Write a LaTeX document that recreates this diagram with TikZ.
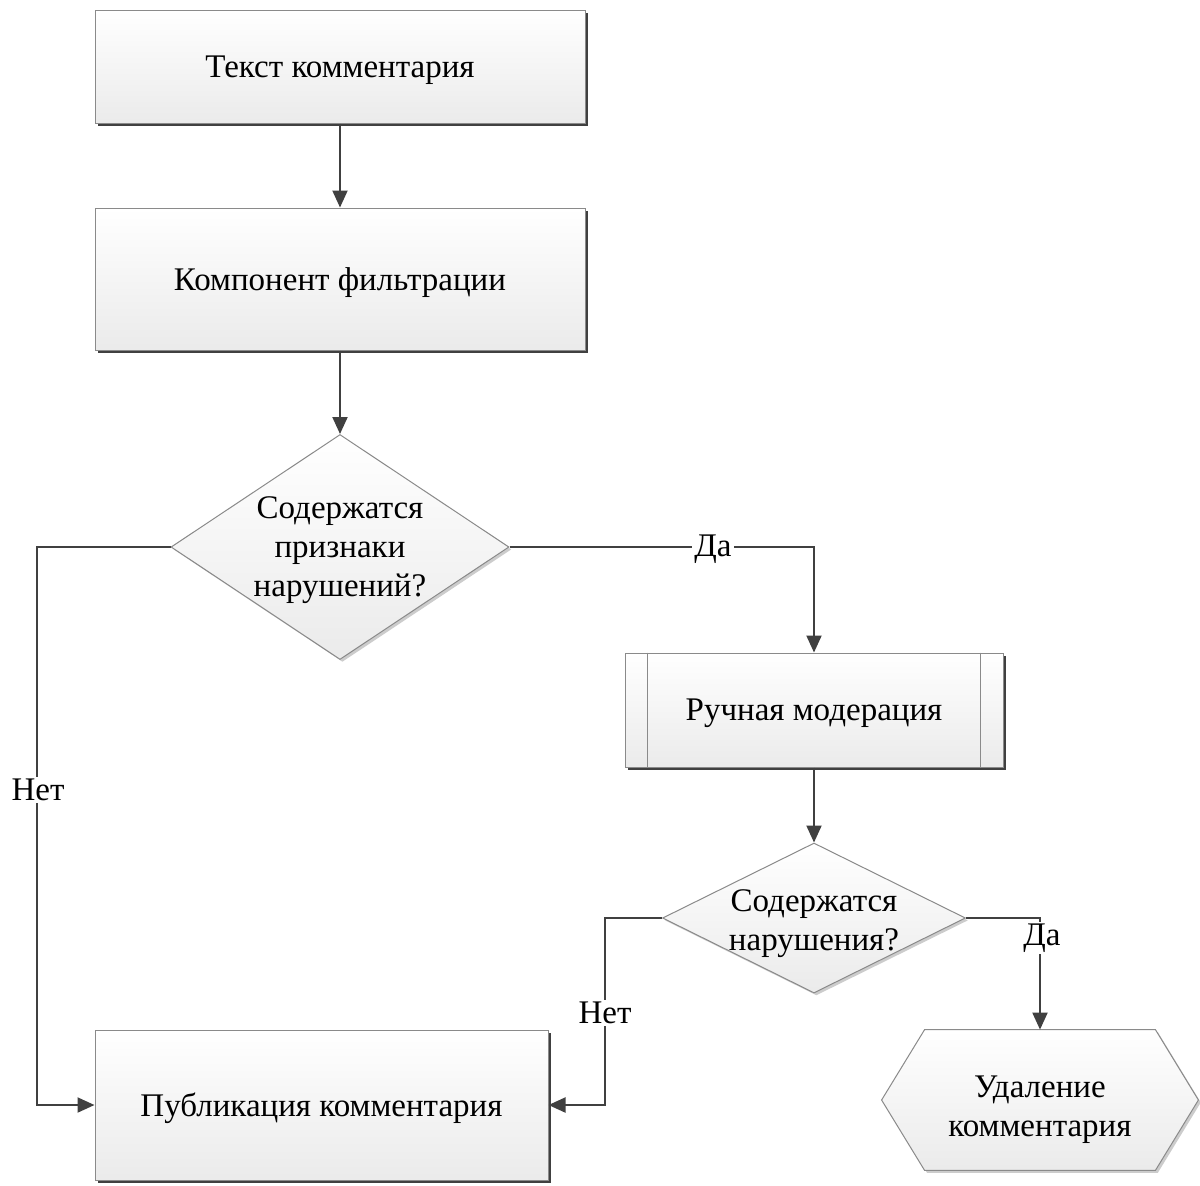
\documentclass[tikz,border=0pt]{standalone}
\usepackage{fontspec}
\setmainfont{Liberation Serif}
\usetikzlibrary{shapes.geometric,shadows,calc,arrows.meta}
\definecolor{lnc}{HTML}{404040}
\definecolor{brd}{HTML}{8A8A8A}
\tikzset{
  boxst/.style={rectangle,draw=brd,line width=0.5pt,top color=white,bottom color=black!8,
    drop shadow={shadow xshift=1.6pt,shadow yshift=-1.6pt,fill=black!75,opacity=1},
    inner sep=0pt},
  diast/.style={diamond,draw=brd,line width=0.5pt,top color=white,bottom color=black!8,
    drop shadow={shadow xshift=1.2pt,shadow yshift=-1.2pt,fill=black!20,opacity=1},
    inner sep=0pt},
  hexst/.style={draw=brd,line width=0.5pt,top color=white,bottom color=black!8,
    drop shadow={shadow xshift=1.2pt,shadow yshift=-1.2pt,fill=black!20,opacity=1}},
  txt/.style={font=\fontsize{16.5}{19.5}\selectfont,align=center,inner sep=0pt,text depth=0pt},
  lbl/.style={font=\fontsize{16.5}{19.5}\selectfont,fill=white,inner sep=1pt},
  conn/.style={draw=lnc,line width=1pt,-{Triangle[length=8.5pt,width=7.5pt]}},
}
\begin{document}
\begin{tikzpicture}[x=0.5pt,y=-0.5pt]
\useasboundingbox[fill=white] (0,0) rectangle (1200,1185);
% boxes
\node[boxst,minimum width=245pt,minimum height=56.5pt,txt] (t1) at (340,66.5) {Текст комментария};
\node[boxst,minimum width=245pt,minimum height=71pt,txt] (t2) at (340,279) {Компонент фильтрации};
\node[diast,minimum width=169pt,minimum height=112.5pt] (d1) at (340,547) {};
\node[txt] (d1t) at (340,547) {Содержатся\\признаки\\нарушений?};
\node[boxst,minimum width=189pt,minimum height=57pt,txt] (man) at (814,710) {Ручная модерация};
\draw[brd,line width=0.5pt] ($(man.north west)+(23,0)$) -- ($(man.south west)+(23,0)$);
\draw[brd,line width=0.5pt] ($(man.north east)+(-23,0)$) -- ($(man.south east)+(-23,0)$);
\node[diast,minimum width=151.5pt,minimum height=75pt] (d2) at (814,918) {};
\node[txt] (d2t) at (814,920) {Содержатся\\нарушения?};
\node[boxst,minimum width=226.5pt,minimum height=75pt,txt] (pub) at (321.5,1105) {Публикация комментария};
\node[minimum width=158pt,minimum height=70pt,inner sep=0pt] (del) at (1040,1100) {};
\path[hexst] (del.west) -- ($(del.north west)+(43,0)$) -- ($(del.north east)+(-43,0)$) -- (del.east)
  -- ($(del.south east)+(-43,0)$) -- ($(del.south west)+(43,0)$) -- cycle;
\node[txt] (delt) at (1040,1106) {Удаление\\комментария};
% connectors
\draw[conn] (t1.south) -- (t2.north);
\draw[conn] (t2.south) -- (d1.north);
\draw[conn] (d1.east) -| (man.north);
\node[lbl] (l1) at (713,549) {Да};
\draw[conn] (man.south) -- (d2.north);
\draw[conn] (d1.west) -- ++(-134,0) |- (pub.west);
\node[lbl] (l2) at (38,790) {Нет};
\draw[conn] (d2.east) -| (del.north);
\node[lbl] (l3) at (1042,938) {Да};
\draw[conn] (d2.west) -- ++(-57,0) |- (pub.east);
\node[lbl] (l4) at (605,1013) {Нет};
\end{tikzpicture}
\end{document}
